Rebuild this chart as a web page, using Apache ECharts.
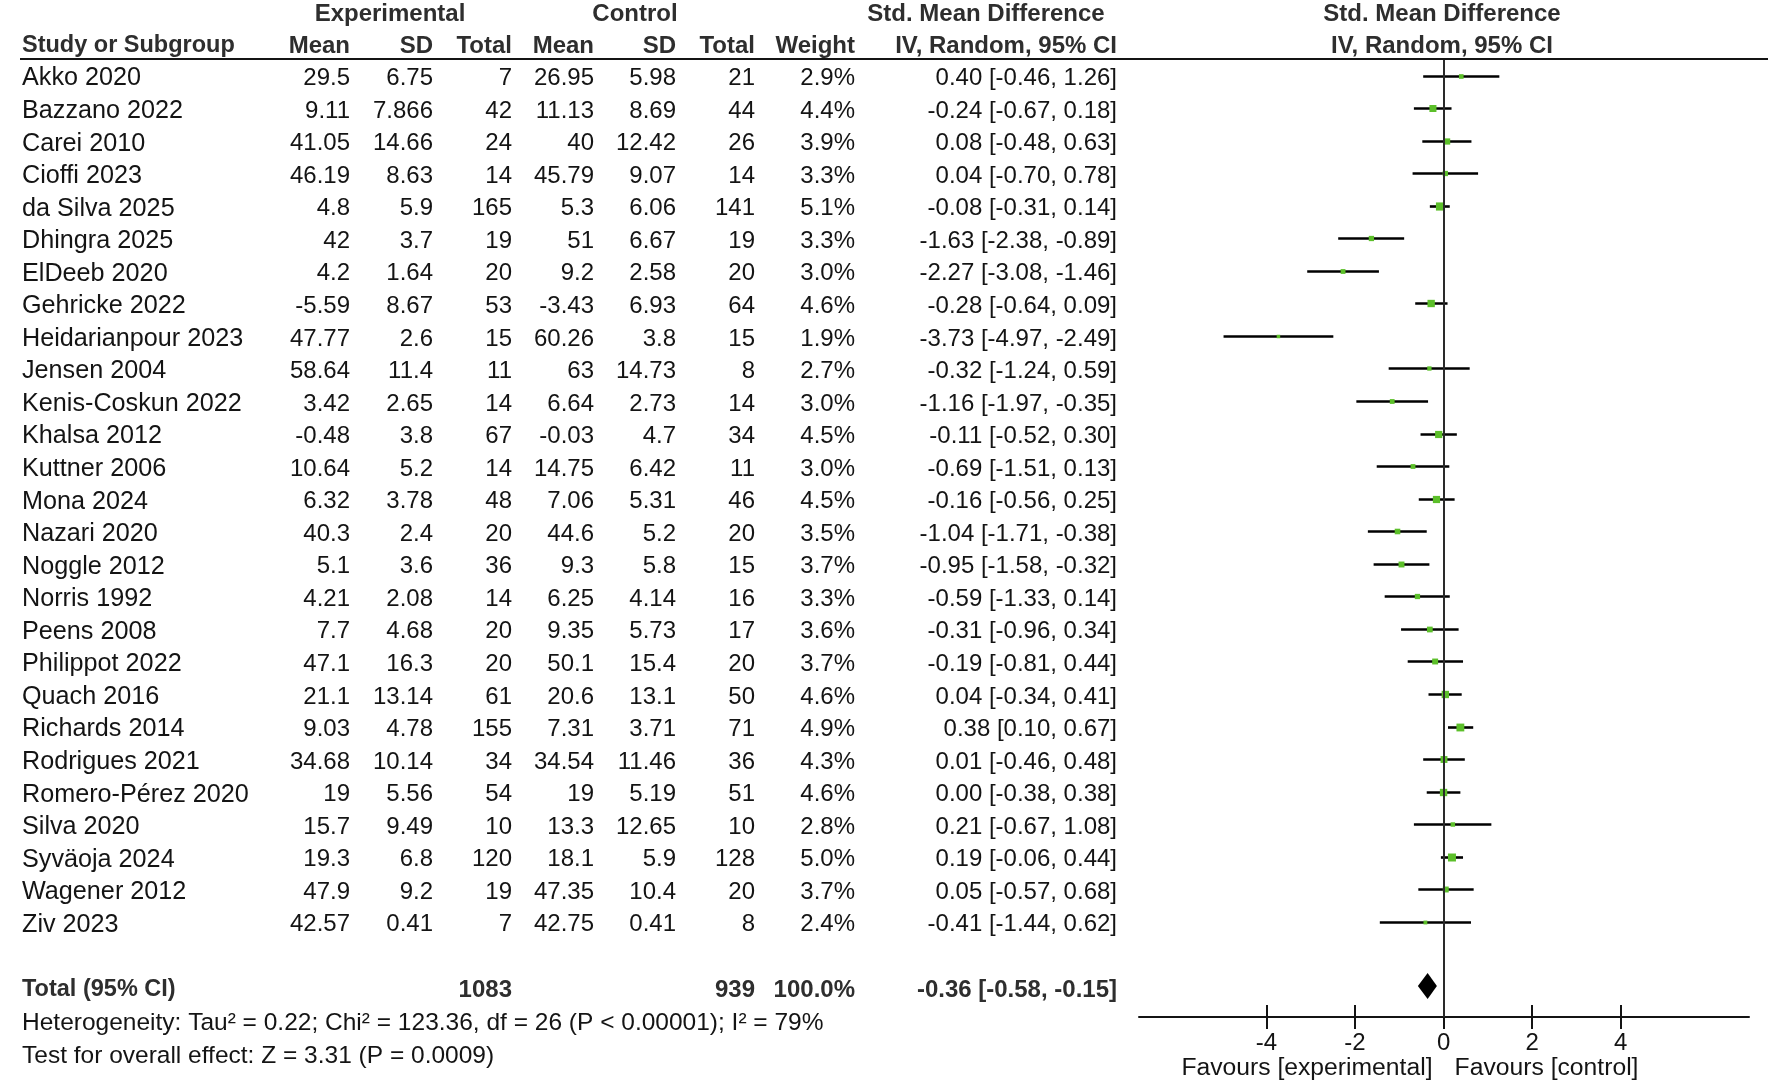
<!DOCTYPE html>
<html><head><meta charset="utf-8">
<script src="https://cdn.jsdelivr.net/npm/echarts@6/dist/echarts.min.js"></script>
<style>html,body{margin:0;padding:0;background:#fff}#c{width:1772px;height:1085px}</style>
</head><body><div id="c"></div>
<script>
// ---------------- DATA ----------------
const studies = ['Akko 2020','Bazzano 2022','Carei 2010','Cioffi 2023','da Silva 2025','Dhingra 2025','ElDeeb 2020','Gehricke 2022','Heidarianpour 2023','Jensen 2004','Kenis-Coskun 2022','Khalsa 2012','Kuttner 2006','Mona 2024','Nazari 2020','Noggle 2012','Norris 1992','Peens 2008','Philippot 2022','Quach 2016','Richards 2014','Rodrigues 2021','Romero-Pérez 2020','Silva 2020','Syväoja 2024','Wagener 2012','Ziv 2023'];
const expMean = [29.5, 9.11, 41.05, 46.19, 4.8, 42, 4.2, -5.59, 47.77, 58.64, 3.42, -0.48, 10.64, 6.32, 40.3, 5.1, 4.21, 7.7, 47.1, 21.1, 9.03, 34.68, 19, 15.7, 19.3, 47.9, 42.57];
const expSD = [6.75, 7.866, 14.66, 8.63, 5.9, 3.7, 1.64, 8.67, 2.6, 11.4, 2.65, 3.8, 5.2, 3.78, 2.4, 3.6, 2.08, 4.68, 16.3, 13.14, 4.78, 10.14, 5.56, 9.49, 6.8, 9.2, 0.41];
const expN = [7, 42, 24, 14, 165, 19, 20, 53, 15, 11, 14, 67, 14, 48, 20, 36, 14, 20, 20, 61, 155, 34, 54, 10, 120, 19, 7];
const ctlMean = [26.95, 11.13, 40, 45.79, 5.3, 51, 9.2, -3.43, 60.26, 63, 6.64, -0.03, 14.75, 7.06, 44.6, 9.3, 6.25, 9.35, 50.1, 20.6, 7.31, 34.54, 19, 13.3, 18.1, 47.35, 42.75];
const ctlSD = [5.98, 8.69, 12.42, 9.07, 6.06, 6.67, 2.58, 6.93, 3.8, 14.73, 2.73, 4.7, 6.42, 5.31, 5.2, 5.8, 4.14, 5.73, 15.4, 13.1, 3.71, 11.46, 5.19, 12.65, 5.9, 10.4, 0.41];
const ctlN = [21, 44, 26, 14, 141, 19, 20, 64, 15, 8, 14, 34, 11, 46, 20, 15, 16, 17, 20, 50, 71, 36, 51, 10, 128, 20, 8];
const weight = [2.9, 4.4, 3.9, 3.3, 5.1, 3.3, 3.0, 4.6, 1.9, 2.7, 3.0, 4.5, 3.0, 4.5, 3.5, 3.7, 3.3, 3.6, 3.7, 4.6, 4.9, 4.3, 4.6, 2.8, 5.0, 3.7, 2.4];
const smd = [0.40, -0.24, 0.08, 0.04, -0.08, -1.63, -2.27, -0.28, -3.73, -0.32, -1.16, -0.11, -0.69, -0.16, -1.04, -0.95, -0.59, -0.31, -0.19, 0.04, 0.38, 0.01, 0.00, 0.21, 0.19, 0.05, -0.41];
const ciLow = [-0.46, -0.67, -0.48, -0.70, -0.31, -2.38, -3.08, -0.64, -4.97, -1.24, -1.97, -0.52, -1.51, -0.56, -1.71, -1.58, -1.33, -0.96, -0.81, -0.34, 0.10, -0.46, -0.38, -0.67, -0.06, -0.57, -1.44];
const ciHigh = [1.26, 0.18, 0.63, 0.78, 0.14, -0.89, -1.46, 0.09, -2.49, 0.59, -0.35, 0.30, 0.13, 0.25, -0.38, -0.32, 0.14, 0.34, 0.44, 0.41, 0.67, 0.48, 0.38, 1.08, 0.44, 0.68, 0.62];
const totalLabel = 'Total (95% CI)';
const totalExpN = 1083, totalCtlN = 939, totalWeight = 100.0;
const totalSMD = -0.36, totalLow = -0.58, totalHigh = -0.15;
const heterogeneityText = 'Heterogeneity: Tau² = 0.22; Chi² = 123.36, df = 26 (P < 0.00001); I² = 79%';
const overallText = 'Test for overall effect: Z = 3.31 (P = 0.0009)';
const groupHeaders = ['Experimental', 'Control', 'Std. Mean Difference'];
const colHeaders = ['Study or Subgroup', 'Mean', 'SD', 'Total', 'Mean', 'SD', 'Total', 'Weight', 'IV, Random, 95% CI'];
const plotHeaders = ['Std. Mean Difference', 'IV, Random, 95% CI'];
const xTicks = [-4, -2, 0, 2, 4];
const favourLabels = ['Favours [experimental]', 'Favours [control]'];

// ---------------- LAYOUT ----------------
const FONT = '"Liberation Sans", Arial, sans-serif';
const ROW0 = 78.5, ROWH = 32.55;
const rowOf = y => (y - ROW0) / ROWH;
const COLX = {study: 22, expMean: 350, expSD: 433, expN: 512, ctlMean: 594, ctlSD: 676, ctlN: 755, weight: 855, ci: 1117};
const TOTAL_ROW = studies.length + 1;
const TXT = '#141414';
const HDR = '#2e2e2e';

const f2 = v => v.toFixed(2);
const ciStr = (m, l, h) => f2(m) + ' [' + f2(l) + ', ' + f2(h) + ']';

const cells = [];
function cell(x, row, text, align, bold, size) { cells.push({x, row, text: String(text), align, bold: !!bold, size: size || 24}); }
// headers
const h1 = rowOf(14), h2 = rowOf(46);
cell(390, h1, groupHeaders[0], 'center', true);
cell(635, h1, groupHeaders[1], 'center', true);
cell(986, h1, groupHeaders[2], 'center', true);
cell(COLX.study, h2, colHeaders[0], 'left', true, 23.5);
['expMean','expSD','expN','ctlMean','ctlSD','ctlN','weight','ci'].forEach((k, j) => cell(COLX[k], h2, colHeaders[j + 1], 'right', true));
cell(1442, h1, plotHeaders[0], 'center', true);
cell(1442, h2, plotHeaders[1], 'center', true);
// rows
studies.forEach((s, i) => {
  cell(COLX.study, i, s, 'left', false, 25.2);
  cell(COLX.expMean, i, expMean[i], 'right');
  cell(COLX.expSD, i, expSD[i], 'right');
  cell(COLX.expN, i, expN[i], 'right');
  cell(COLX.ctlMean, i, ctlMean[i], 'right');
  cell(COLX.ctlSD, i, ctlSD[i], 'right');
  cell(COLX.ctlN, i, ctlN[i], 'right');
  cell(COLX.weight, i, weight[i].toFixed(1) + '%', 'right');
  cell(COLX.ci, i, ciStr(smd[i], ciLow[i], ciHigh[i]), 'right');
});
cell(COLX.study, TOTAL_ROW, totalLabel, 'left', true, 23.5);
cell(COLX.expN, TOTAL_ROW, totalExpN, 'right', true);
cell(COLX.ctlN, TOTAL_ROW, totalCtlN, 'right', true);
cell(COLX.weight, TOTAL_ROW, totalWeight.toFixed(1) + '%', 'right', true);
cell(COLX.ci, TOTAL_ROW, ciStr(totalSMD, totalLow, totalHigh), 'right', true);
cell(COLX.study, rowOf(1023), heterogeneityText, 'left', false, 24.5);
cell(COLX.study, rowOf(1056), overallText, 'left', false, 24.5);

const forestTop = 59, axisY = 1017;
const chart = echarts.init(document.getElementById('c'), null, {renderer: 'canvas'});
const tickAxisBase = {
  gridIndex: 0, type: 'value', min: -6.88, max: 6.9, position: 'bottom',
  splitLine: {show: false}
};
chart.setOption({
  animation: false,
  backgroundColor: '#fff',
  grid: [
    {left: 1139, right: 23, top: forestTop, bottom: 1085 - axisY},
    {left: 0, right: 0, top: 0, bottom: 0}
  ],
  xAxis: [
    Object.assign({}, tickAxisBase, {
      axisLine: {show: true, onZero: false, lineStyle: {color: TXT, width: 2}},
      axisTick: {show: true, customValues: xTicks, length: 12, lineStyle: {color: TXT, width: 2}},
      axisLabel: {show: true, customValues: xTicks, margin: 14, fontSize: 24, fontFamily: FONT, color: TXT}
    }),
    Object.assign({}, tickAxisBase, {
      axisLine: {show: false, onZero: false},
      axisTick: {show: true, inside: true, customValues: xTicks, length: 12, lineStyle: {color: TXT, width: 2}},
      axisLabel: {show: false}
    }),
    {gridIndex: 1, type: 'value', min: 0, max: 1772, show: false}
  ],
  yAxis: [
    {gridIndex: 0, type: 'value', inverse: true, min: rowOf(forestTop), max: rowOf(axisY), show: false},
    {gridIndex: 1, type: 'value', inverse: true, min: rowOf(0), max: rowOf(1085), show: false}
  ],
  graphic: [{
    type: 'line', shape: {x1: 20, y1: forestTop, x2: 1768, y2: forestTop},
    style: {stroke: TXT, lineWidth: 2}, z: 10
  }],
  series: [
    {
      type: 'custom', xAxisIndex: 2, yAxisIndex: 1, silent: true,
      data: cells.map(c => [c.x, c.row]),
      encode: {x: 0, y: 1},
      renderItem: (params, api) => {
        const c = cells[params.dataIndex];
        const p = api.coord([api.value(0), api.value(1)]);
        return {type: 'text', x: p[0], y: p[1], style: {
          text: c.text, align: c.align, verticalAlign: 'middle',
          fontSize: c.size, fontWeight: c.bold ? 'bold' : 'normal',
          fontFamily: FONT, fill: c.bold ? HDR : TXT
        }};
      }
    },
    {
      type: 'custom', xAxisIndex: 0, yAxisIndex: 0, silent: true, clip: false,
      data: studies.map((s, i) => [smd[i], ciLow[i], ciHigh[i], i, weight[i]]),
      encode: {x: [0, 1, 2], y: 3},
      renderItem: (params, api) => {
        const r = api.value(3);
        const lo = api.coord([api.value(1), r]);
        const hi = api.coord([api.value(2), r]);
        const c = api.coord([api.value(0), r]);
        const y = Math.round(c[1] - 3) + 0.5;
        const s = Math.max(3.5, api.value(4) * 1.6);
        return {type: 'group', children: [
          {type: 'line', shape: {x1: lo[0], y1: y, x2: hi[0], y2: y}, style: {stroke: '#000', lineWidth: 2.6}},
          {type: 'rect', shape: {x: c[0] - s / 2, y: y - s / 2, width: s, height: s}, style: {fill: '#5cbf2a'}}
        ]};
      },
      markLine: {
        silent: true, symbol: ['none', 'none'], label: {show: false},
        lineStyle: {color: '#2a2a2a', width: 2, type: 'solid'},
        data: [{xAxis: 0}]
      }
    },
    {
      type: 'custom', xAxisIndex: 0, yAxisIndex: 0, silent: true, clip: false,
      data: [[totalSMD, totalLow, totalHigh, TOTAL_ROW]],
      encode: {x: [0, 1, 2], y: 3},
      renderItem: (params, api) => {
        const r = api.value(3);
        const lo = api.coord([api.value(1), r]);
        const hi = api.coord([api.value(2), r]);
        const c = api.coord([api.value(0), r]);
        const y = c[1] - 4;
        return {type: 'polygon', shape: {points: [[lo[0], y], [c[0], y - 13], [hi[0], y], [c[0], y + 13]]}, style: {fill: '#000'}};
      }
    },
    {
      type: 'custom', xAxisIndex: 0, yAxisIndex: 0, silent: true, clip: false,
      data: [[-0.25, rowOf(1068)], [0.25, rowOf(1068)]],
      encode: {x: 0, y: 1},
      renderItem: (params, api) => {
        const p = api.coord([api.value(0), api.value(1)]);
        return {type: 'text', x: p[0], y: p[1], style: {
          text: favourLabels[params.dataIndex], align: params.dataIndex === 0 ? 'right' : 'left',
          verticalAlign: 'middle', fontSize: 24.7, fontFamily: FONT, fill: TXT
        }};
      }
    }
  ]
});
</script>
</body></html>
